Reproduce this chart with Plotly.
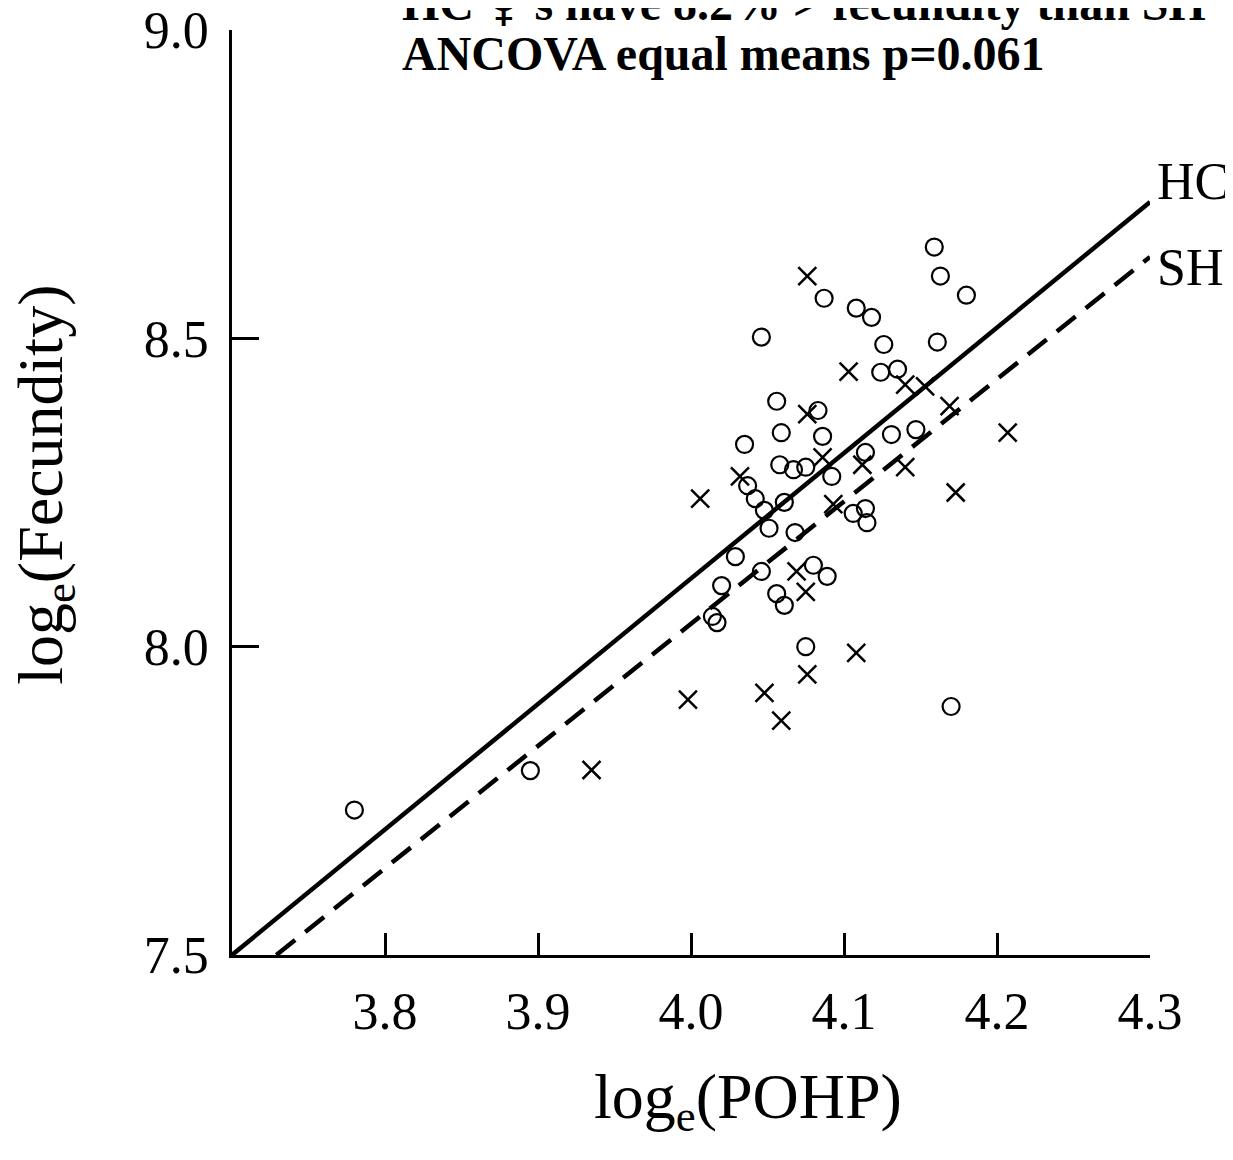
import plotly.graph_objects as go

# HC females (open circles)
hc_x = [3.780, 3.895, 4.046, 4.159, 4.163, 4.180, 4.161, 4.087, 4.108, 4.118,
        4.126, 4.135, 4.124, 4.056, 4.083, 4.035, 4.059, 4.086, 4.131, 4.147,
        4.114, 4.058, 4.067, 4.075, 4.092, 4.037, 4.042, 4.061, 4.048, 4.106,
        4.114, 4.115, 4.051, 4.068, 4.029, 4.046, 4.020, 4.080, 4.089, 4.056,
        4.061, 4.014, 4.017, 4.075, 4.170]
hc_y = [7.735, 7.799, 8.502, 8.648, 8.601, 8.570, 8.494, 8.565, 8.549, 8.534,
        8.490, 8.450, 8.445, 8.398, 8.383, 8.328, 8.347, 8.341, 8.344, 8.352,
        8.315, 8.295, 8.287, 8.291, 8.276, 8.261, 8.240, 8.234, 8.221, 8.216,
        8.224, 8.201, 8.192, 8.185, 8.146, 8.122, 8.099, 8.132, 8.114, 8.086,
        8.067, 8.049, 8.039, 8.000, 7.903]

# SH females (crosses)
sh_x = [4.076, 4.103, 4.076, 4.140, 4.153, 4.169, 4.207, 4.140, 4.173, 4.086,
        4.112, 4.093, 4.032, 4.006, 4.069, 4.075, 4.108, 4.076, 4.048, 4.059,
        3.998, 3.935]
sh_y = [8.601, 8.446, 8.377, 8.425, 8.422, 8.390, 8.347, 8.291, 8.250, 8.307,
        8.295, 8.231, 8.276, 8.240, 8.122, 8.089, 7.990, 7.955, 7.925, 7.880,
        7.914, 7.800]

# Fitted lines (endpoints)
hc_line_x = [3.700, 4.300]
hc_line_y = [7.500, 8.721]
sh_line_x = [3.729, 4.300]
sh_line_y = [7.500, 8.632]

x_ticks = [3.8, 3.9, 4.0, 4.1, 4.2, 4.3]
x_ticktext = ["3.8", "3.9", "4.0", "4.1", "4.2", "4.3"]
y_ticks = [7.5, 8.0, 8.5, 9.0]
y_ticktext = ["7.5", "8.0", "8.5", "9.0"]

FONT = "Liberation Serif, Times New Roman, serif"
FEM = '<span style="font-family:DejaVu Serif;font-weight:normal">\u2640</span>'

fig = go.Figure()
fig.add_trace(go.Scatter(x=hc_line_x, y=hc_line_y, mode="lines",
                         line=dict(color="black", width=4.5), showlegend=False))
fig.add_trace(go.Scatter(x=sh_line_x, y=sh_line_y, mode="lines",
                         line=dict(color="black", width=4.5, dash="24px,13px"),
                         showlegend=False))
fig.add_trace(go.Scatter(x=hc_x, y=hc_y, mode="markers",
                         marker=dict(symbol="circle-open", size=17, color="black",
                                     line=dict(width=2.2, color="black")),
                         showlegend=False))
fig.add_trace(go.Scatter(x=sh_x, y=sh_y, mode="markers",
                         marker=dict(symbol="x-thin-open", size=18, color="black",
                                     line=dict(width=2.5, color="black")),
                         showlegend=False))

fig.update_xaxes(range=[3.7, 4.3], showline=True, linecolor="black", linewidth=2.5,
                 ticks="inside", ticklen=22, tickwidth=2.5, tickcolor="black",
                 tickvals=x_ticks, ticktext=x_ticktext, showgrid=False, zeroline=False,
                 tickfont=dict(family=FONT, size=52, color="black"),
                 ticklabelstandoff=9, automargin=False, ticklabeloverflow="allow")
fig.update_yaxes(range=[7.5, 9.0], showline=True, linecolor="black", linewidth=2.5,
                 ticks="inside", ticklen=27, tickwidth=2.5, tickcolor="black",
                 tickvals=y_ticks, ticktext=y_ticktext, showgrid=False, zeroline=False,
                 tickfont=dict(family=FONT, size=52, color="black"),
                 ticklabelstandoff=10, automargin=False, ticklabeloverflow="allow")

annotations = [
    dict(text="log<sub>e</sub>(POHP)", x=0.562, y=-0.158, xref="paper", yref="paper",
         showarrow=False, font=dict(family=FONT, size=64, color="black"),
         xanchor="center", yanchor="middle"),
    dict(text="log<sub>e</sub>(Fecundity)", x=-0.204, y=0.508, xref="paper", yref="paper",
         showarrow=False, textangle=-90, font=dict(family=FONT, size=64, color="black"),
         xanchor="center", yanchor="middle"),
    dict(text="HC", x=1.005, y=0.836, xref="paper", yref="paper", showarrow=False,
         font=dict(family=FONT, size=52, color="black"), xanchor="left", yanchor="middle"),
    dict(text="SH", x=1.005, y=0.743, xref="paper", yref="paper", showarrow=False,
         font=dict(family=FONT, size=52, color="black"), xanchor="left", yanchor="middle"),
    dict(text="<b>HC " + FEM + "'s have 8.2% > fecundity than SH " + FEM + "</b>",
         x=0.183, y=1.029, xref="paper", yref="paper", showarrow=False,
         font=dict(family=FONT, size=48, color="black"), xanchor="left", yanchor="middle"),
    dict(text="<b>ANCOVA equal means p=0.061</b>", x=0.183, y=0.975,
         xref="paper", yref="paper", showarrow=False,
         font=dict(family=FONT, size=48, color="black"), xanchor="left", yanchor="middle"),
]

fig.update_layout(width=1225, height=1152, autosize=False,
                  margin=dict(l=224, r=83, t=22, b=205),
                  paper_bgcolor="white", plot_bgcolor="white",
                  annotations=annotations)

fig.write_html("out.html")
